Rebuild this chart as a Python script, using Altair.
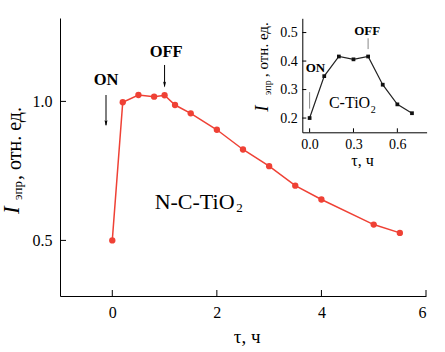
import altair as alt
import pandas as pd

# ---- data ----
main_t = [0.0, 0.2, 0.5, 0.8, 1.0, 1.2, 1.5, 2.0, 2.5, 3.0, 3.5, 4.0, 5.0, 5.5]
main_i = [0.500, 0.997, 1.023, 1.017, 1.022, 0.987, 0.957, 0.898, 0.827, 0.767, 0.697, 0.647, 0.557, 0.527]

inset_t = [0.0, 0.1, 0.2, 0.3, 0.4, 0.5, 0.6, 0.7]
inset_i = [0.200, 0.347, 0.416, 0.406, 0.416, 0.317, 0.248, 0.217]

main_xticks = [0, 2, 4, 6]
main_yticks = [0.5, 1.0]
inset_xticks = [0.0, 0.3, 0.6]
inset_yticks = [0.2, 0.3, 0.4, 0.5]

# ---- layout ----
W, H = 366, 278
SERIF = "Liberation Serif"
RED = "#ef4135"
INK = "black"
IX0, IX1 = 242.3, 366.6   # inset x pixel range inside plot
IY0, IY1 = 114.3, 0.3     # inset y pixel range inside plot

main_df = pd.DataFrame({"t": main_t, "v": main_i})
inset_df = pd.DataFrame({"t": inset_t, "v": inset_i})
one = pd.DataFrame({"k": [0]})

mx_scale = alt.Scale(domain=[-1, 6], nice=False, zero=False)
my_scale = alt.Scale(domain=[0.3, 1.3], nice=False, zero=False)
ix_scale = alt.Scale(domain=[-0.05, 0.8], range=[IX0, IX1], nice=False, zero=False)
iy_scale = alt.Scale(domain=[0.15, 0.55], range=[IY0, IY1], nice=False, zero=False)

main_x_axis = alt.Axis(orient="bottom", values=main_xticks, format="d", tickSize=0,
                       labelPadding=8, labelFontSize=16, labelFont=SERIF, labelColor=INK,
                       domainColor=INK, domainWidth=1, grid=False,
                       title="τ, ч", titleFont=SERIF, titleFontSize=19, titleFontWeight="normal",
                       titleColor=INK, titleX=186.7, titleY=46.5, titleBaseline="alphabetic",
                       titleAlign="center")
main_y_axis = alt.Axis(orient="left", values=main_yticks, format=".1f", tickSize=0,
                       labelPadding=8, labelFontSize=16, labelFont=SERIF, labelColor=INK,
                       domainColor=INK, domainWidth=1, grid=False, title=None)
inset_x_axis = alt.Axis(orient="bottom", offset=IY0 - H, values=inset_xticks, format=".1f",
                        tickSize=0, labelPadding=5, labelFontSize=14, labelFont=SERIF,
                        labelColor=INK, domainColor=INK, domainWidth=1, grid=False,
                        title="τ, ч", titleFont=SERIF, titleFontSize=16, titleFontWeight="normal",
                        titleColor=INK, titleX=302, titleY=33, titleBaseline="alphabetic",
                        titleAlign="center")
inset_y_axis = alt.Axis(orient="left", offset=-IX0, values=inset_yticks, format=".1f",
                        tickSize=0, labelPadding=5, labelFontSize=14, labelFont=SERIF,
                        labelColor=INK, domainColor=INK, domainWidth=1, grid=False, title=None)

MX = alt.X("t:Q", scale=mx_scale, axis=main_x_axis)
MY = alt.Y("v:Q", scale=my_scale, axis=main_y_axis)
IXe = alt.X("t:Q", scale=ix_scale, axis=inset_x_axis)
IYe = alt.Y("v:Q", scale=iy_scale, axis=inset_y_axis)

ARROW = "M0,0L-0.5,-2L0,-1.6L0.5,-2Z"

# ---- main chart ----
m_line = alt.Chart(main_df).mark_line(color=RED, strokeWidth=1.5).encode(x=MX, y=MY)
m_pts = alt.Chart(main_df).mark_circle(color=RED, size=40, opacity=1).encode(x=MX, y=MY)
m_xt = alt.Chart(pd.DataFrame({"t": main_xticks})).mark_rule(color=INK, strokeWidth=1).encode(
    x=MX, y=alt.value(H - 6), y2=alt.value(H))
m_yt = alt.Chart(pd.DataFrame({"v": main_yticks})).mark_rule(color=INK, strokeWidth=1).encode(
    y=MY, x=alt.value(0), x2=alt.value(6))

def label(txt, x, y, size, weight="normal", align="center", dx=0, dy=0, style="normal"):
    return alt.Chart(one).mark_text(text=txt, font=SERIF, fontSize=size, fontWeight=weight,
                                    fontStyle=style, align=align, baseline="alphabetic",
                                    dx=dx, dy=dy, color=INK).encode(x=x, y=y)

on_t = label("ON", alt.datum(-0.12), alt.datum(1.059), 16.5, "bold")
off_t = label("OFF", alt.datum(1.03), alt.datum(1.161), 16.5, "bold")
on_r = alt.Chart(one).mark_rule(color=INK, strokeWidth=1).encode(
    x=alt.datum(-0.12), y=alt.datum(1.023), y2=alt.datum(0.915))
on_h = alt.Chart(one).mark_point(shape=ARROW, filled=True, size=36, color=INK, opacity=1).encode(
    x=alt.datum(-0.12), y=alt.datum(0.911))
off_r = alt.Chart(one).mark_rule(color=INK, strokeWidth=1).encode(
    x=alt.datum(1.0), y=alt.datum(1.131), y2=alt.datum(1.054))
off_h = alt.Chart(one).mark_point(shape=ARROW, filled=True, size=36, color=INK, opacity=1).encode(
    x=alt.datum(1.0), y=alt.datum(1.050))
n_t = label("N-C-TiO", alt.datum(0.81), alt.datum(0.614), 22, align="left")
n_2 = label("2", alt.datum(0.81), alt.datum(0.614), 13, align="left", dx=81.5, dy=3.7)

main_layer = alt.layer(m_line, m_pts, m_xt, m_yt, on_t, off_t, on_r, on_h, off_r, off_h, n_t, n_2)

# ---- inset chart ----
i_line = alt.Chart(inset_df).mark_line(color="#222222", strokeWidth=1.2).encode(x=IXe, y=IYe)
i_pts = alt.Chart(inset_df).mark_square(color="#111111", size=14, opacity=1).encode(x=IXe, y=IYe)
i_xt = alt.Chart(pd.DataFrame({"t": inset_xticks})).mark_rule(color=INK, strokeWidth=1).encode(
    x=IXe, y=alt.value(IY0 - 4), y2=alt.value(IY0))
i_yt = alt.Chart(pd.DataFrame({"v": inset_yticks})).mark_rule(color=INK, strokeWidth=1).encode(
    y=IYe, x=alt.value(IX0), x2=alt.value(IX0 + 4))
ion_t = label("ON", alt.datum(0.04), alt.datum(0.363), 13, "bold")
ioff_t = label("OFF", alt.datum(0.394), alt.datum(0.492), 13, "bold")
ion_r = alt.Chart(one).mark_rule(color="#888888", strokeWidth=1).encode(
    x=alt.datum(0.0), y=alt.datum(0.291), y2=alt.datum(0.233))
ioff_r = alt.Chart(one).mark_rule(color="#888888", strokeWidth=1).encode(
    x=alt.datum(0.4), y=alt.datum(0.480), y2=alt.datum(0.442))
c_t = label("C-TiO", alt.datum(0.132), alt.datum(0.235), 16, align="left")
c_2 = label("2", alt.datum(0.132), alt.datum(0.235), 10, align="left", dx=41.8, dy=5)

inset_layer = alt.layer(i_line, i_pts, i_xt, i_yt, ion_t, ioff_t, ion_r, ioff_r, c_t, c_2)

# ---- rotated y titles (rich text: I + subscript + rest) ----
def rot(txt, px, py, size, style="normal"):
    return alt.Chart(one).mark_text(text=txt, font=SERIF, fontSize=size, fontStyle=style,
                                    angle=270, align="left", baseline="alphabetic",
                                    color=INK).encode(x=alt.value(px), y=alt.value(py))

titles = alt.layer(
    rot("I", -40.7, 196, 23, "italic"),
    rot("эпр", -37.8, 182, 13),
    rot(", отн. ед.", -39.3, 162, 20),
    rot("I", 207.7, 93.7, 19, "italic"),
    rot("эпр", 211.3, 77, 10),
    rot(", отн. ед.", 207.5, 59, 15),
)

chart = alt.layer(main_layer, inset_layer, titles).resolve_scale(
    x="independent", y="independent"
).properties(
    width=W, height=H,
    padding={"left": 60, "top": 18, "right": 19, "bottom": 56},
    autosize="none",
    background="white",
).configure_view(stroke=None)

chart.save("out.html", embed_options={"renderer": "svg", "actions": False})
